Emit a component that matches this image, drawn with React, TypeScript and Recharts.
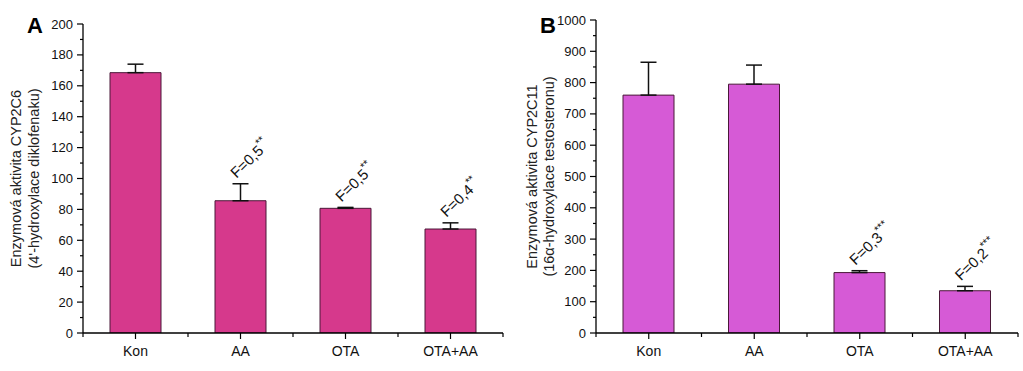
import React from 'react';
import { BarChart, Bar, XAxis, YAxis, ErrorBar, LabelList, Label } from 'recharts';

const categories = ['Kon', 'AA', 'OTA', 'OTA+AA'];

const cyp2c6Values = [168.5, 85.6, 80.7, 67.3];
const cyp2c6Errors = [5.5, 11, 0.6, 4];
const cyp2c6Notes = ['', 'F=0,5', 'F=0,5', 'F=0,4'];
const cyp2c6Stars = ['', '**', '**', '**'];
const cyp2c6AllTicks = [0, 10, 20, 30, 40, 50, 60, 70, 80, 90, 100, 110, 120, 130, 140, 150, 160, 170, 180, 190, 200];
const cyp2c6MajorTicks = [0, 20, 40, 60, 80, 100, 120, 140, 160, 180, 200];

const cyp2c11Values = [760, 795, 193, 135];
const cyp2c11Errors = [105, 61, 6, 14];
const cyp2c11Notes = ['', '', 'F=0,3', 'F=0,2'];
const cyp2c11Stars = ['', '', '***', '***'];
const cyp2c11AllTicks = [0, 50, 100, 150, 200, 250, 300, 350, 400, 450, 500, 550, 600, 650, 700, 750, 800, 850, 900, 950, 1000];
const cyp2c11MajorTicks = [0, 100, 200, 300, 400, 500, 600, 700, 800, 900, 1000];

const FONT = '"Liberation Sans", Arial, Helvetica, sans-serif';

type PanelProps = {
  letter: string;
  values: number[];
  errors: number[];
  notes: string[];
  stars: string[];
  allTicks: number[];
  majorTicks: number[];
  domainMax: number;
  labelLines: string[];
  fill: string;
  left: number;
  width: number;
  yAxisWidth: number;
  marginTop: number;
  marginRight: number;
  labelX: number[];
  letterX: number;
};

function Panel(p: PanelProps) {
  const data = categories.map((c, i) => ({
    name: c,
    value: p.values[i],
    err: [0, p.errors[i]],
  }));

  const YTick = (props: any) => {
    const { x, y, payload } = props;
    const major = p.majorTicks.includes(payload.value);
    return (
      <g>
        <line x1={x} x2={x - (major ? 6 : 3)} y1={y} y2={y} stroke="#000" strokeWidth={1.2} />
        {major && (
          <text x={x - 10} y={y} dy={4.5} textAnchor="end" fontSize={13} fontFamily={FONT} fill="#111">
            {payload.value}
          </text>
        )}
      </g>
    );
  };

  const XTick = (props: any) => {
    const { x, y, payload, index } = props;
    const off = payload && typeof payload.offset === 'number' ? payload.offset : 0;
    return (
      <g>
        <line x1={x} x2={x} y1={y} y2={y + 6} stroke="#000" strokeWidth={1.2} />
        {off > 0 && <line x1={x - off} x2={x - off} y1={y} y2={y + 4} stroke="#000" strokeWidth={1.2} />}
        {off > 0 && index === categories.length - 1 && (
          <line x1={x + off} x2={x + off} y1={y} y2={y + 4} stroke="#000" strokeWidth={1.2} />
        )}
        <text x={x} y={y + 23} textAnchor="middle" fontSize={14} fontFamily={FONT} fill="#111">
          {payload.value}
        </text>
      </g>
    );
  };

  const renderNote = (props: any) => {
    const { x, y, width, height, value, index } = props;
    const note = p.notes[index];
    if (!note) return null;
    const cx = Number(x) + Number(width) / 2;
    const pxPerUnit = Number(height) / Number(value);
    const top = Number(y) - p.errors[index] * pxPerUnit;
    const ax = cx - 4;
    const ay = top - 5;
    return (
      <text
        x={ax}
        y={ay}
        transform={`rotate(-44, ${ax}, ${ay})`}
        fontSize={15}
        fontFamily={FONT}
        fill="#111"
      >
        {note}
        <tspan fontSize={11} dy={-7}>{p.stars[index]}</tspan>
      </text>
    );
  };

  const renderYLabel = (props: any) => {
    const vb = props.viewBox || {};
    const cy = (vb.y ?? 0) + (vb.height ?? 0) / 2;
    return (
      <g>
        {p.labelLines.map((line, i) => (
          <text
            key={i}
            x={p.labelX[i]}
            y={cy}
            transform={`rotate(-90, ${p.labelX[i]}, ${cy})`}
            textAnchor="middle"
            dominantBaseline="central"
            fontSize={14.5}
            fontFamily={FONT}
            fill="#222"
          >
            {line}
          </text>
        ))}
      </g>
    );
  };

  return (
    <div style={{ position: 'absolute', left: p.left, top: 0, width: p.width, height: 371 }}>
      <BarChart
        width={p.width}
        height={371}
        data={data}
        margin={{ top: p.marginTop, right: p.marginRight, left: 0, bottom: 8 }}
      >
        <XAxis
          dataKey="name"
          height={30}
          tickSize={0}
          tickMargin={0}
          tickLine={false}
          interval={0}
          axisLine={{ stroke: '#000', strokeWidth: 1.3 }}
          tick={<XTick />}
        />
        <YAxis
          width={p.yAxisWidth}
          domain={[0, p.domainMax]}
          ticks={p.allTicks}
          interval={0}
          tickSize={0}
          tickMargin={0}
          tickLine={false}
          axisLine={{ stroke: '#000', strokeWidth: 1.3 }}
          tick={<YTick />}
          allowDataOverflow
        >
          <Label content={renderYLabel} />
        </YAxis>
        <Bar dataKey="value" fill={p.fill} stroke="#4a1838" strokeWidth={1} barSize={51} isAnimationActive={false}>
          <ErrorBar dataKey="err" width={8} stroke="#111" strokeWidth={1.5} direction="y" />
          <LabelList dataKey="value" content={renderNote} />
        </Bar>
      </BarChart>
      <div
        style={{
          position: 'absolute',
          left: p.letterX,
          top: 13,
          fontFamily: FONT,
          fontWeight: 'bold',
          fontSize: 22,
          lineHeight: '26px',
          color: '#000',
        }}
      >
        {p.letter}
      </div>
    </div>
  );
}

export default function App() {
  return (
    <div style={{ position: 'absolute', left: 0, top: 0, width: 1023, height: 371, background: '#fff' }}>
      <Panel
        letter="A"
        values={cyp2c6Values}
        errors={cyp2c6Errors}
        notes={cyp2c6Notes}
        stars={cyp2c6Stars}
        allTicks={cyp2c6AllTicks}
        majorTicks={cyp2c6MajorTicks}
        domainMax={200}
        labelLines={['Enzymová aktivita CYP2C6', "(4'-hydroxylace diklofenaku)"]}
        fill="#D6398C"
        left={0}
        width={510}
        yAxisWidth={83}
        marginTop={24}
        marginRight={7}
        labelX={[16, 34]}
        letterX={27}
      />
      <Panel
        letter="B"
        values={cyp2c11Values}
        errors={cyp2c11Errors}
        notes={cyp2c11Notes}
        stars={cyp2c11Stars}
        allTicks={cyp2c11AllTicks}
        majorTicks={cyp2c11MajorTicks}
        domainMax={1000}
        labelLines={['Enzymová aktivita CYP2C11', '(16α-hydroxylace testosteronu)']}
        fill="#D65AD6"
        left={510}
        width={513}
        yAxisWidth={86}
        marginTop={20}
        marginRight={5}
        labelX={[22, 39]}
        letterX={30}
      />
    </div>
  );
}
